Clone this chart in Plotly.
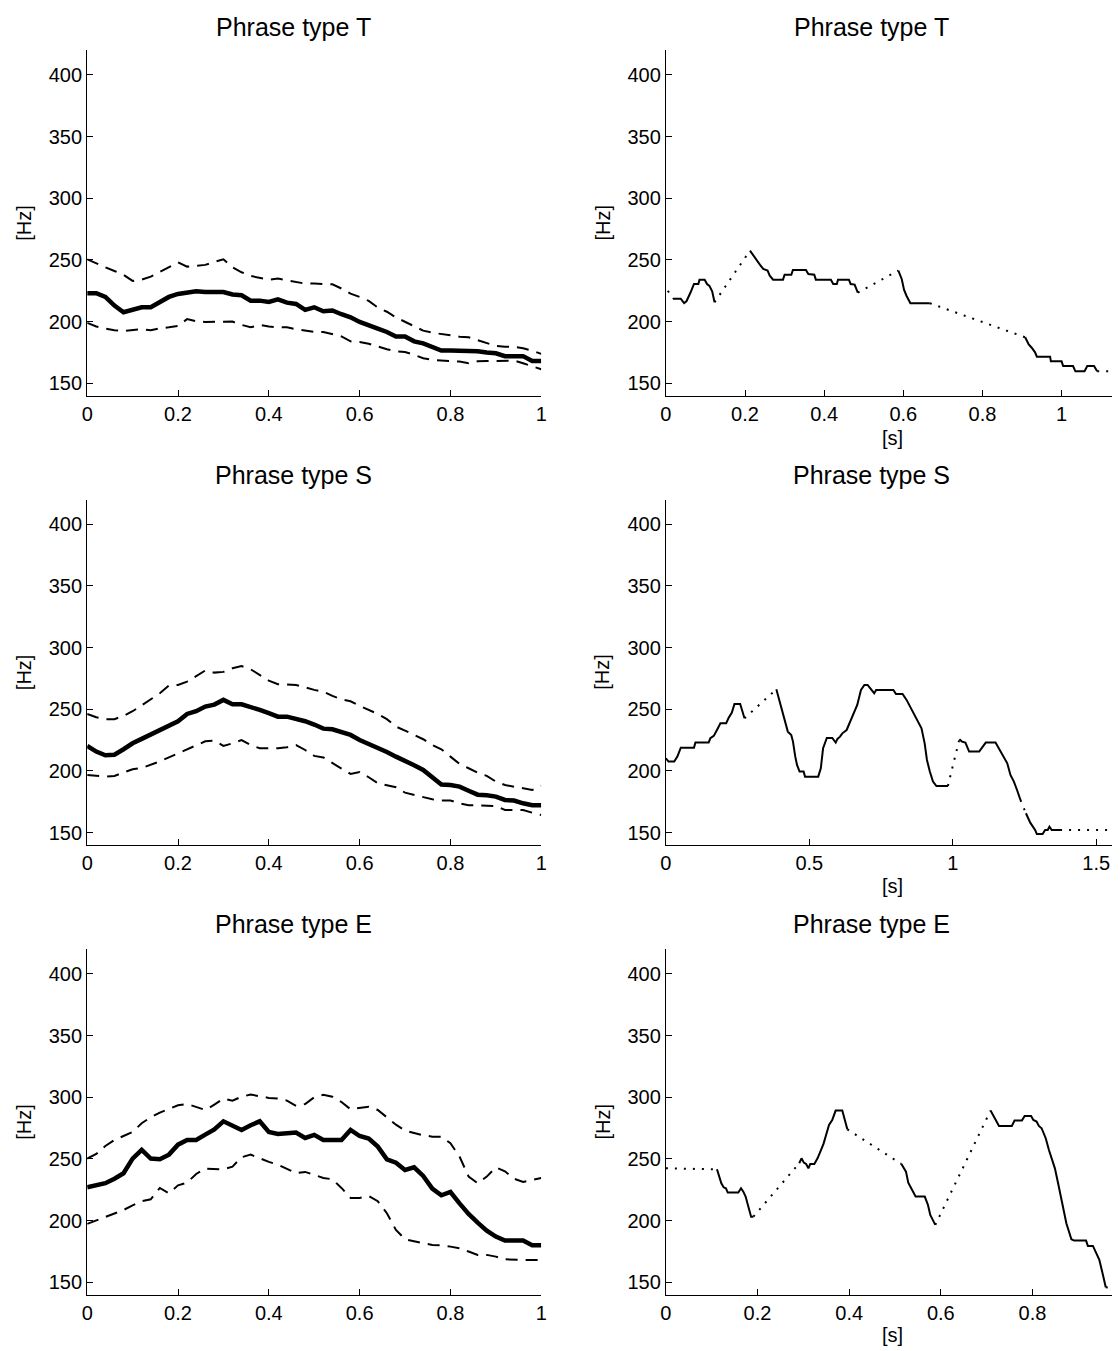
import plotly.graph_objects as go

# ---------------- data ----------------
X_NORM = [0.0, 0.02, 0.04, 0.06, 0.08, 0.10, 0.12, 0.14, 0.16, 0.18,
          0.20, 0.22, 0.24, 0.26, 0.28, 0.30, 0.32, 0.34, 0.36, 0.38,
          0.40, 0.42, 0.44, 0.46, 0.48, 0.50, 0.52, 0.54, 0.56, 0.58,
          0.60, 0.62, 0.64, 0.66, 0.68, 0.70, 0.72, 0.74, 0.76, 0.78,
          0.80, 0.82, 0.84, 0.86, 0.88, 0.90, 0.92, 0.94, 0.96, 0.98, 1.0]

# Phrase type T (normalised time)
T_MEAN = [223, 223, 220, 213, 207.6, 210, 211.6, 211.6, 216, 220,
          222.4, 223.5, 224.6, 224, 223.8, 224, 222, 221.4, 217, 217,
          216, 218, 215.4, 214.3, 209.5, 211.6, 208.4, 209, 206, 203.5,
          199.7, 196.5, 194.3, 191.6, 188, 188, 184, 182.4, 179.7, 176.5,
          176.5, 176.5, 176.5, 176, 175, 174.3, 172, 172, 172, 168, 168]
T_UPPER = [250.5, 247, 244, 241, 238, 233, 234, 236.5, 240.5, 244,
           248, 244.6, 245, 246, 248.4, 250.5, 244, 240, 237, 235.7,
           234, 234.9, 233.5, 232.2, 230.8, 230.8, 230.8, 230.3, 226.8, 222.7,
           220, 216.8, 211.4, 208, 203.4, 199.9, 195.9, 192.7, 191, 189.9,
           188.4, 187.8, 187.3, 185.1, 182.4, 180.3, 179.7, 179.7, 178.4, 176.5, 173.8]
T_LOWER = [199, 196, 194.3, 193, 192.4, 193.2, 193.8, 193, 194.6, 195.4,
           196.5, 202, 200.3, 199.7, 199.7, 199.7, 200, 197.3, 195.4, 197.3,
           196, 195.4, 195.4, 193.8, 192.7, 191.6, 191.6, 190, 188, 184,
           183.5, 182, 179.7, 177.6, 176, 175.4, 173, 170.3, 169, 168.4,
           167.6, 167.6, 166.2, 167.8, 168, 168, 168.6, 168.4, 166.2, 164, 161.4]

# Phrase type S (normalised time)
S_MEAN = [220.3, 215.7, 212.7, 213.2, 217.6, 222.4, 226, 229.5, 233.2, 237,
          240.3, 246.2, 248.4, 252.2, 253.8, 257.6, 254, 254, 252.2, 249.5,
          246.8, 244, 244, 242.4, 240.3, 237.6, 234.3, 233.8, 231.6, 229.2,
          225.1, 222, 219.2, 215.4, 211.6, 208.4, 204.6, 200.8, 195.4, 189,
          188.6, 187.3, 184, 180.8, 180.3, 179.2, 176.5, 176, 173.8, 172.2, 172.2]
S_UPPER = [246.2, 243.5, 242, 242, 244.6, 248.4, 253.2, 258, 263, 269.2,
           269.7, 272.4, 277, 281.4, 279.7, 280.3, 283.2, 285, 282.4, 277.8,
           273.2, 270.3, 269.7, 269.7, 267.8, 265.7, 264.3, 260.8, 258, 256.5,
           252.7, 249.5, 246.2, 242, 236, 232.7, 229.2, 225.7, 221, 217.6,
           211.6, 205.7, 202.2, 198.6, 196, 191.4, 188.6, 187.3, 185.7, 184.6, 187.8]
S_LOWER = [196.8, 196, 195.4, 196, 198.6, 201.4, 202.4, 204.9, 207.8, 211,
           214.3, 217.6, 221, 224, 224.6, 220.3, 222.4, 225, 221, 218.4,
           218.4, 218.4, 219.2, 221, 217, 212.2, 211, 206.2, 201.9, 197.6,
           199.2, 194.9, 190, 188.4, 186.8, 182.4, 180.5, 178.6, 177, 176,
           176, 173.8, 172.2, 172.2, 172.2, 171.6, 168.4, 168.4, 168.4, 166.2, 164.3]

# Phrase type E (normalised time)
E_MEAN = [227, 228.6, 230.3, 234, 238.4, 250.3, 257.3, 250.3, 249.7, 253.5,
          261.6, 265.4, 265.4, 269.7, 274, 280.5, 277.3, 273.5, 277.3, 280.5,
          271.9, 270.3, 270.8, 271.4, 267, 269.5, 265.4, 265.4, 265.4, 273.5,
          268.6, 266.5, 260, 249.7, 247, 241.1, 243.2, 236.2, 226, 220.5,
          223.2, 214, 205.4, 198.4, 191.9, 187, 183.8, 183.8, 183.8, 180, 180]
E_UPPER = [250.3, 254, 260.5, 265.4, 268.6, 271.9, 279, 283.8, 287.6, 290.8,
           293.5, 294.6, 291.9, 289.7, 294, 299, 297.3, 300.5, 302.2, 301,
           299.5, 299, 297.3, 293, 294.6, 300, 302, 300.5, 296.2, 290.3,
           291.4, 292.4, 289.7, 283.8, 277.8, 273, 270.8, 269.2, 268.1, 268.1,
           262.7, 251.9, 235.7, 230.3, 235.7, 243.2, 240, 234, 231.4, 233, 234.6]
E_LOWER = [197.3, 200, 202.7, 205.4, 208.6, 212.4, 215.7, 217.3, 226.5, 222.2,
           228.6, 230.8, 237.8, 242.2, 242.2, 241.6, 243.8, 251.4, 253.5, 250.3,
           247.6, 245.4, 241.6, 238.4, 239.5, 237.3, 234.6, 233.5, 226.5, 218.4,
           218.4, 220, 215.7, 206, 192.4, 184.9, 183, 181.6, 180.3, 180,
           178.9, 177.6, 174.9, 172.2, 172.2, 170.8, 168.6, 168.1, 168.1, 168.1, 168.1]

# Example F0 contours (time in s). SEG: 0 = unvoiced anchor, n>0 = voiced segment n
TR_T = [0.005, 0.018, 0.0375, 0.046, 0.052, 0.0625, 0.071, 0.082, 0.085, 0.098, 0.104, 0.110, 0.117, 0.123,
        0.2125, 0.221, 0.229, 0.2375, 0.246, 0.257, 0.2625, 0.271, 0.296, 0.300, 0.317, 0.321, 0.354, 0.360,
        0.375, 0.379, 0.417, 0.423, 0.432, 0.435, 0.4625, 0.467, 0.477, 0.485,
        0.5875, 0.596, 0.602, 0.608, 0.618, 0.667,
        0.908, 0.917, 0.925, 0.933, 0.9375, 0.971, 0.973, 1.0, 1.004, 1.029, 1.035, 1.058, 1.065, 1.082, 1.09,
        1.14]
TR_F0 = [225, 218.6, 218.6, 215, 216.5, 223.8, 230.5, 230.5, 234, 234, 230.5, 229, 224.6, 215.7,
         257.6, 253.5, 249.5, 246.2, 242.7, 241.4, 237.3, 234, 234, 238, 238, 241.9, 241.9, 238.6,
         238, 234, 234, 230.5, 230.5, 234, 234, 230.5, 230, 223.5,
         241.4, 234.6, 225.7, 221, 214.9, 214.9,
         187.3, 181.4, 178.6, 175.1, 171.6, 171.6, 167.8, 167.8, 164, 164, 159.7, 159.7, 164, 164, 159.7,
         159.7]
TR_SEG = [0] + [1] * 13 + [2] * 24 + [3] * 6 + [4] * 15 + [0]

SR_T = [0.0, 0.009, 0.029, 0.040, 0.052, 0.098, 0.103, 0.149, 0.155, 0.167, 0.178, 0.190, 0.210, 0.218, 0.230,
        0.239, 0.259, 0.274,
        0.385, 0.397, 0.408, 0.416, 0.425, 0.437, 0.443, 0.451, 0.457, 0.466, 0.480, 0.485, 0.531, 0.540,
        0.548, 0.561, 0.580, 0.592, 0.598, 0.607, 0.615, 0.630, 0.638, 0.655, 0.667, 0.680, 0.692, 0.703,
        0.718, 0.726, 0.733, 0.793, 0.802, 0.825, 0.839, 0.856, 0.874, 0.891, 0.902, 0.910, 0.920, 0.931,
        0.943, 0.983,
        1.023, 1.032, 1.044, 1.057, 1.092, 1.103, 1.115, 1.149, 1.161, 1.172, 1.190, 1.201, 1.213, 1.224, 1.236,
        1.255, 1.270, 1.287, 1.293, 1.313, 1.322, 1.331, 1.337, 1.345, 1.374,
        1.58]
SR_F0 = [210.3, 207.6, 207.6, 211.6, 218.9, 218.9, 223, 223, 226.5, 228.4, 233.2, 238.6, 238.6, 242.7, 247.3,
         254.3, 254.3, 242.7,
         266.2, 256.2, 246.8, 238.6, 231.9, 229.2, 223.8, 211.6, 204.9, 199.5, 199.5, 195.4, 195.4, 202.2,
         218.4, 226.8, 226.8, 223, 226, 227.8, 230.5, 233.2, 237.3, 246.8, 253.5, 265.7, 269.7, 269.7,
         265.7, 263, 265.7, 265.7, 262.4, 262.4, 257.6, 250, 241.9, 234.6, 222.4, 208.9, 199.5, 191.4,
         187.8, 187.8,
         225.7, 223.8, 223, 215.7, 215.7, 219.2, 223, 223, 218.4, 213, 206.2, 196.8, 191.4, 184.6, 176.5,
         165.7, 158.1, 152.2, 148.9, 148.9, 152.2, 152.2, 154.9, 152.2, 152.2,
         152.2]
SR_SEG = [1] * 18 + [2] * 44 + [3] * 15 + [4] * 10 + [0]

ER_T = [0.0,
        0.1115, 0.1165, 0.121, 0.126, 0.131, 0.135, 0.158, 0.164, 0.169, 0.174, 0.180, 0.186, 0.191,
        0.291, 0.296, 0.301, 0.306, 0.311, 0.315, 0.324, 0.331, 0.338, 0.344, 0.349, 0.356, 0.363, 0.3705,
        0.385, 0.390, 0.396,
        0.514, 0.524, 0.529, 0.538, 0.545, 0.565, 0.572, 0.577, 0.583, 0.588,
        0.7086, 0.716, 0.727, 0.755, 0.761, 0.777, 0.783, 0.797, 0.802, 0.809, 0.814, 0.820, 0.829, 0.836,
        0.843, 0.849, 0.856, 0.865, 0.874, 0.885, 0.891, 0.917, 0.921, 0.932, 0.939, 0.946, 0.953, 0.960,
        0.975]
ER_F0 = [242.4,
         241.6, 236.2, 230.3, 227, 226.2, 222.7, 222.7, 226.2, 223.5, 219.5, 211.4, 203.2, 203.2,
         246.5, 250.5, 247, 245.9, 242.4, 245.9, 245.9, 250.5, 256.8, 262.2, 268.6, 277.6, 281.6, 289.2,
         289.2, 283, 274,
         245.9, 239.7, 230.8, 224.9, 219.5, 219.5, 212.7, 204.6, 200, 196.5,
         289.2, 284.3, 276.8, 276.8, 281.1, 281.1, 284.9, 284.9, 281.6, 280.3, 276.8, 274.9, 266.8, 257.3,
         248.6, 242.4, 230.3, 214.1, 197.8, 184.9, 183.8, 183.8, 179.5, 179.5, 173.5, 168.1, 157.3, 146,
         145.2]
ER_SEG = [0] + [1] * 13 + [2] * 17 + [3] * 10 + [4] * 28 + [0]

TITLES = ["Phrase type T", "Phrase type T", "Phrase type S", "Phrase type S",
          "Phrase type E", "Phrase type E"]
Y_TICKS = [150, 200, 250, 300, 350, 400]
X_TICKS_LEFT = [0, 0.2, 0.4, 0.6, 0.8, 1]
X_TICKS_RIGHT = [[0, 0.2, 0.4, 0.6, 0.8, 1], [0, 0.5, 1, 1.5], [0, 0.2, 0.4, 0.6, 0.8]]
X_RANGE_RIGHT = [1.1325, 1.562, 0.978]

# ---------------- figure ----------------
# the page body has an 8px margin, so the figure is laid out 8px smaller
FONT = "Liberation Sans, Arial, Helvetica, sans-serif"
OFF = 8
W, H = 1120 - OFF, 1351 - OFF
LEFT_DOM = [(82 - OFF) / W, (541 - OFF) / W]
RIGHT_DOM = [(667 - OFF) / W, 1.0]
ROW_PX = [(50.3 - OFF, 395.6 - OFF), (499.5 - OFF, 845.0 - OFF), (949.3 - OFF, 1294.6 - OFF)]
ROW_DOM = [[1 - b / H, 1 - t / H] for t, b in ROW_PX]

fig = go.Figure()


def axis_style():
    return dict(showline=True, linecolor="black", linewidth=1.2, ticks="inside", ticklen=6,
                tickwidth=1, tickcolor="black", showgrid=False, zeroline=False, mirror=False,
                tickfont=dict(family=FONT, size=20, color="black"))


layout = {}
for r in range(3):
    for c in range(2):
        k = r * 2 + c + 1
        xa = "xaxis" if k == 1 else f"xaxis{k}"
        ya = "yaxis" if k == 1 else f"yaxis{k}"
        xs = axis_style()
        ys = axis_style()
        if c == 0:
            xs.update(domain=LEFT_DOM, range=[0, 1], tickvals=X_TICKS_LEFT)
        else:
            xs.update(domain=RIGHT_DOM, range=[0, X_RANGE_RIGHT[r]], tickvals=X_TICKS_RIGHT[r])
        xs.update(anchor="y" if k == 1 else f"y{k}")
        ys.update(domain=ROW_DOM[r], range=[140, 420], tickvals=Y_TICKS,
                  anchor="x" if k == 1 else f"x{k}")
        layout[xa] = xs
        layout[ya] = ys

left_sets = [(T_MEAN, T_UPPER, T_LOWER), (S_MEAN, S_UPPER, S_LOWER), (E_MEAN, E_UPPER, E_LOWER)]
right_sets = [(TR_T, TR_F0, TR_SEG), (SR_T, SR_F0, SR_SEG), (ER_T, ER_F0, ER_SEG)]

for r in range(3):
    kL = r * 2 + 1
    kR = r * 2 + 2
    xL = "x" if kL == 1 else f"x{kL}"
    yL = "y" if kL == 1 else f"y{kL}"
    mean, up, lo = left_sets[r]
    for ser in (up, lo):
        fig.add_trace(go.Scatter(x=X_NORM, y=ser, mode="lines", xaxis=xL, yaxis=yL,
                                 line=dict(color="black", width=2, dash="12px,8px")))
    fig.add_trace(go.Scatter(x=X_NORM, y=mean, mode="lines", xaxis=xL, yaxis=yL,
                             line=dict(color="black", width=4.5)))

    t, f0, seg = right_sets[r]
    sx, sy, dx, dy = [], [], [], []
    for i in range(len(t)):
        if seg[i] > 0:
            if i > 0 and seg[i - 1] != seg[i]:
                sx.append(None); sy.append(None)
            sx.append(t[i]); sy.append(f0[i])
        if i > 0 and seg[i - 1] != seg[i] or (i > 0 and seg[i] == 0 and seg[i - 1] == 0):
            dx += [t[i - 1], t[i], None]
            dy += [f0[i - 1], f0[i], None]
    xR = f"x{kR}"
    yR = f"y{kR}"
    fig.add_trace(go.Scatter(x=dx, y=dy, mode="lines", xaxis=xR, yaxis=yR,
                             line=dict(color="black", width=2, dash="2px,7px")))
    fig.add_trace(go.Scatter(x=sx, y=sy, mode="lines", xaxis=xR, yaxis=yR,
                             line=dict(color="black", width=2)))

annotations = []
TITLE_Y = [27, 475, 924]
for r in range(3):
    for c, xc in enumerate([291, 875]):
        annotations.append(dict(text=TITLES[r * 2 + c], x=(xc - OFF) / W, y=1 - (TITLE_Y[r] - OFF) / H,
                                xref="paper", yref="paper", showarrow=False,
                                xanchor="center", yanchor="middle",
                                font=dict(family=FONT, size=25, color="black")))
    for xc in (18, 603):
        annotations.append(dict(text="[Hz]", x=(xc - OFF) / W,
                                y=1 - (ROW_PX[r][0] + ROW_PX[r][1]) / 2 / H,
                                xref="paper", yref="paper", showarrow=False, textangle=-90,
                                xanchor="center", yanchor="middle",
                                font=dict(family=FONT, size=20, color="black")))
S_Y = [438, 886, 1335]
for r in range(3):
    annotations.append(dict(text="[s]", x=(896 - OFF) / W, y=1 - (S_Y[r] - OFF) / H,
                            xref="paper", yref="paper",
                            showarrow=False, xanchor="center", yanchor="middle",
                            font=dict(family=FONT, size=20, color="black")))

fig.update_layout(width=W, height=H, margin=dict(l=0, r=0, t=0, b=0),
                  paper_bgcolor="white", plot_bgcolor="white", showlegend=False,
                  annotations=annotations, **layout)

fig.write_html("out.html")
